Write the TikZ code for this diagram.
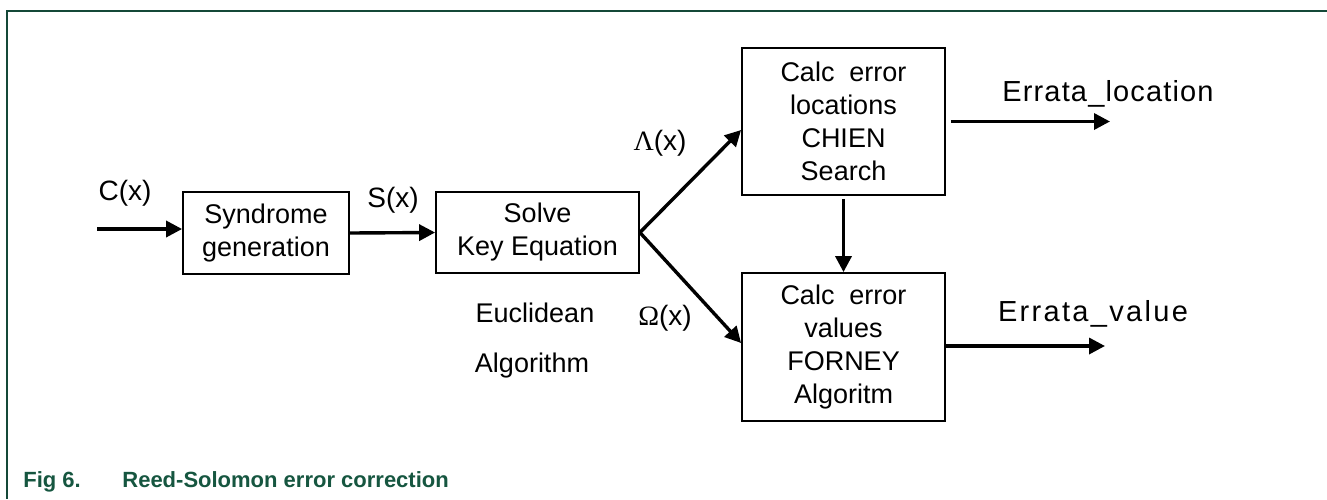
\documentclass[tikz,border=0pt]{standalone}
\usepackage{fontspec}
\setmainfont{Liberation Sans}
\newfontfamily\grk{Liberation Serif}
\usetikzlibrary{arrows.meta}
\definecolor{figgreen}{RGB}{22,86,64}
\definecolor{framegreen}{RGB}{20,72,56}

\begin{document}
\begin{tikzpicture}[x=0.5pt,y=-0.5pt,
    blok/.style={rectangle,draw=black,line width=0.9pt,inner sep=0pt,align=center,
                 font=\fontsize{13.5}{16.5}\selectfont},
    sig/.style={-{Triangle[length=8pt,width=8pt]},line width=1.7pt},
    lbl/.style={inner sep=0pt,anchor=base,font=\fontsize{14}{16}\selectfont},
    errlbl/.style={inner sep=0pt,anchor=base,
                   font=\fontsize{14.5}{16}\selectfont\addfontfeatures{LetterSpace=4}}]
\useasboundingbox (0,0) rectangle (1327,499);
\draw[framegreen,line width=0.7pt] (1327,11) -- (7,11) -- (7,499);

\node[blok,minimum width=83pt,minimum height=41pt] (synd) at (266,233) {Syndrome\\generation};
\node[blok,minimum width=101.5pt,minimum height=40.5pt] (solve) at (537.5,232.5) {Solve\\Key Equation};
\node[blok,minimum width=101.5pt,minimum height=73.5pt] (calc1) at (843.5,121.5) {Calc~ error\\locations\\CHIEN\\Search};
\node[blok,minimum width=101.5pt,minimum height=74pt] (calc2) at (843.5,347) {Calc~ error\\values\\FORNEY\\Algoritm};

\node[lbl] (cx) at (125,200) {C(x)};
\node[lbl] (sx) at (393,207) {S(x)};
\node[lbl] (lam) at (660,150) {{\grk Λ}(x)};
\node[lbl] (om) at (665,325) {{\grk Ω}(x)};
\node[lbl,font=\fontsize{13.5}{16}\selectfont] (eucl) at (535,322) {Euclidean};
\node[lbl,font=\fontsize{13.5}{16}\selectfont] (algo) at (532,372) {Algorithm};
\node[errlbl] (locl) at (1108,101) {Errata\_location};
\node[errlbl,font=\fontsize{14.5}{16}\selectfont\addfontfeatures{LetterSpace=8}] (vall) at (1093,321) {Errata\_value};

\coordinate (cin) at (97,229);
\coordinate (eloc) at (1110,121.5);
\coordinate (eval) at (1105,346);

\draw[sig] (cin) -- (cin -| synd.west);
\draw[sig] (synd.east) -- (solve.west);
\draw[sig] (solve.east) -- ([yshift=-4.25pt]calc1.west);
\draw[sig] (solve.east) -- ([yshift=2pt]calc2.west);
\draw[sig,shorten <=1.5pt] (calc1.south) -- (calc2.north);
\draw[sig,shorten <=2.5pt] (calc1.east) -- (eloc);
\draw[sig] (calc2.east |- eval) -- (eval);

\node[anchor=base west,inner sep=0pt,text=figgreen,font=\fontsize{11}{13}\selectfont\bfseries] (cap) at (23,487)
  {\makebox[49.5pt][l]{Fig 6.}Reed-Solomon error correction};
\end{tikzpicture}
\end{document}
